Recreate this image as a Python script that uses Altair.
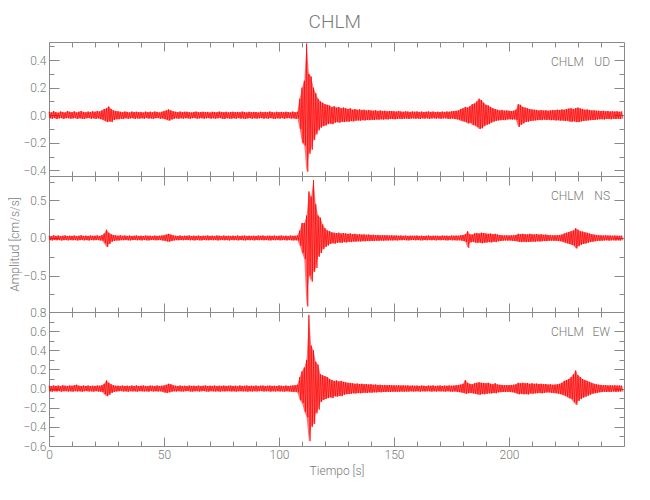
import altair as alt
import pandas as pd

STATION = "CHLM"
SECONDS = list(range(250))

UD_HI = [.025,.02,.03,.022,.018,.027,.024,.02,.03,.025,
         .022,.028,.02,.025,.03,.024,.021,.026,.023,.028,
         .025,.03,.027,.035,.045,.05,.063,.045,.035,.03,
         .028,.025,.022,.027,.024,.02,.026,.023,.025,.022,
         .024,.02,.026,.022,.025,.021,.027,.024,.02,.025,
         .03,.035,.042,.035,.028,.025,.022,.026,.023,.025,
         .025,.022,.02,.024,.026,.021,.023,.025,.022,.024,
         .02,.025,.023,.021,.026,.024,.022,.025,.02,.023,
         .025,.022,.024,.021,.026,.023,.02,.025,.022,.024,
         .023,.02,.025,.022,.024,.021,.026,.023,.02,.025,
         .022,.024,.021,.025,.023,.02,.026,.022,.025,.12,
         .2,.25,.52,.3,.28,.2,.16,.12,.1,.09,
         .08,.075,.07,.06,.065,.055,.06,.05,.055,.05,
         .045,.05,.04,.045,.04,.042,.038,.04,.035,.038,
         .035,.033,.036,.03,.034,.03,.032,.028,.03,.03,
         .028,.026,.03,.027,.025,.028,.026,.024,.027,.025,
         .027,.024,.026,.023,.025,.027,.024,.026,.023,.025,
         .023,.026,.024,.027,.025,.028,.03,.032,.035,.045,
         .05,.06,.055,.065,.08,.085,.1,.12,.11,.09,
         .075,.07,.06,.05,.045,.04,.035,.038,.033,.035,
         .032,.03,.033,.04,.08,.075,.06,.055,.05,.045,
         .042,.04,.038,.035,.037,.034,.036,.033,.035,.038,
         .036,.04,.038,.042,.04,.045,.048,.05,.045,.05,
         .055,.048,.045,.04,.042,.038,.035,.036,.033,.032,
         .03,.032,.028,.03,.027,.029,.026,.028,.025,.027]
UD_LO = [-.022,-.026,-.02,-.028,-.024,-.02,-.027,-.023,-.021,-.026,
         -.024,-.02,-.027,-.022,-.025,-.028,-.023,-.02,-.026,-.022,
         -.027,-.023,-.028,-.032,-.04,-.05,-.045,-.05,-.035,-.03,
         -.03,-.025,-.028,-.022,-.026,-.024,-.021,-.027,-.023,-.025,
         -.022,-.026,-.02,-.025,-.023,-.027,-.022,-.02,-.026,-.024,
         -.028,-.033,-.04,-.032,-.027,-.023,-.026,-.022,-.025,-.022,
         -.023,-.026,-.022,-.02,-.025,-.024,-.021,-.026,-.023,-.02,
         -.025,-.022,-.026,-.023,-.02,-.025,-.027,-.022,-.024,-.026,
         -.022,-.026,-.02,-.025,-.023,-.027,-.024,-.021,-.026,-.022,
         -.025,-.023,-.02,-.026,-.022,-.025,-.021,-.024,-.027,-.022,
         -.025,-.021,-.026,-.023,-.02,-.025,-.022,-.027,-.024,-.1,
         -.2,-.22,-.41,-.28,-.25,-.18,-.14,-.11,-.09,-.08,
         -.075,-.065,-.06,-.065,-.055,-.05,-.055,-.048,-.05,-.045,
         -.048,-.042,-.045,-.04,-.038,-.04,-.036,-.038,-.034,-.036,
         -.033,-.035,-.031,-.033,-.03,-.032,-.029,-.031,-.028,-.028,
         -.03,-.027,-.025,-.028,-.026,-.024,-.027,-.025,-.023,-.026,
         -.024,-.027,-.023,-.025,-.022,-.026,-.024,-.022,-.025,-.023,
         -.026,-.024,-.022,-.025,-.027,-.024,-.028,-.03,-.033,-.04,
         -.045,-.05,-.06,-.055,-.07,-.075,-.085,-.1,-.095,-.08,
         -.07,-.065,-.055,-.048,-.042,-.038,-.036,-.034,-.036,-.032,
         -.03,-.032,-.03,-.035,-.085,-.07,-.06,-.05,-.048,-.042,
         -.04,-.038,-.036,-.034,-.036,-.032,-.035,-.033,-.036,-.034,
         -.038,-.036,-.04,-.038,-.042,-.04,-.045,-.048,-.044,-.05,
         -.05,-.045,-.042,-.04,-.038,-.036,-.034,-.035,-.032,-.03,
         -.029,-.031,-.028,-.027,-.03,-.026,-.028,-.025,-.027,-.026]

NS_HI = [.03,.025,.035,.028,.032,.026,.03,.034,.027,.03,
         .028,.033,.026,.03,.035,.028,.031,.027,.033,.029,
         .03,.034,.028,.036,.06,.11,.07,.05,.04,.035,
         .03,.035,.03,.033,.028,.032,.027,.03,.034,.028,
         .031,.027,.033,.029,.03,.026,.032,.028,.03,.033,
         .035,.045,.055,.045,.035,.03,.028,.032,.027,.03,
         .03,.033,.027,.031,.028,.032,.026,.03,.029,.033,
         .028,.031,.027,.033,.03,.026,.032,.028,.03,.027,
         .031,.028,.033,.026,.03,.032,.027,.031,.028,.03,
         .027,.032,.029,.033,.026,.03,.031,.028,.032,.027,
         .03,.033,.028,.031,.026,.032,.029,.03,.034,.1,
         .2,.2,.3,.62,.55,.77,.45,.3,.27,.18,
         .13,.1,.09,.075,.07,.065,.07,.06,.065,.06,
         .055,.06,.05,.055,.048,.05,.045,.048,.042,.045,
         .04,.042,.038,.04,.036,.038,.035,.037,.033,.035,
         .032,.034,.03,.033,.029,.032,.028,.031,.03,.029,
         .032,.028,.031,.027,.03,.033,.028,.031,.029,.03,
         .027,.032,.029,.031,.028,.033,.03,.032,.03,.035,
         .04,.05,.09,.05,.045,.06,.065,.06,.07,.065,
         .06,.055,.06,.05,.055,.045,.04,.037,.034,.036,
         .033,.035,.038,.04,.055,.05,.055,.05,.048,.055,
         .05,.048,.052,.045,.05,.042,.045,.04,.038,.036,
         .035,.038,.04,.045,.06,.07,.08,.09,.1,.13,
         .11,.09,.085,.075,.07,.06,.05,.045,.04,.038,
         .035,.033,.036,.032,.034,.03,.033,.031,.029,.032]
NS_LO = [-.028,-.033,-.026,-.031,-.027,-.034,-.029,-.026,-.032,-.028,
         -.031,-.027,-.033,-.029,-.026,-.032,-.028,-.034,-.027,-.03,
         -.029,-.026,-.033,-.035,-.07,-.12,-.08,-.05,-.04,-.035,
         -.033,-.029,-.031,-.027,-.03,-.033,-.028,-.026,-.031,-.028,
         -.032,-.027,-.03,-.033,-.028,-.026,-.031,-.029,-.027,-.032,
         -.036,-.045,-.05,-.04,-.034,-.029,-.031,-.027,-.03,-.028,
         -.026,-.031,-.028,-.033,-.027,-.03,-.032,-.027,-.029,-.031,
         -.027,-.03,-.026,-.032,-.029,-.027,-.031,-.028,-.033,-.027,
         -.03,-.028,-.032,-.027,-.029,-.033,-.027,-.03,-.028,-.032,
         -.027,-.03,-.028,-.031,-.027,-.029,-.033,-.028,-.03,-.027,
         -.031,-.029,-.026,-.032,-.028,-.03,-.033,-.03,-.032,-.1,
         -.2,-.28,-.91,-.5,-.58,-.45,-.4,-.25,-.2,-.15,
         -.12,-.1,-.08,-.07,-.075,-.065,-.06,-.065,-.055,-.06,
         -.05,-.055,-.048,-.05,-.045,-.047,-.042,-.044,-.04,-.042,
         -.038,-.04,-.036,-.038,-.034,-.036,-.033,-.035,-.031,-.033,
         -.03,-.032,-.029,-.031,-.028,-.03,-.032,-.029,-.027,-.031,
         -.028,-.03,-.033,-.027,-.031,-.028,-.03,-.027,-.032,-.028,
         -.031,-.027,-.03,-.032,-.028,-.031,-.029,-.033,-.03,-.035,
         -.04,-.05,-.13,-.06,-.05,-.06,-.065,-.06,-.07,-.065,
         -.06,-.055,-.06,-.05,-.055,-.045,-.04,-.036,-.033,-.035,
         -.033,-.036,-.04,-.042,-.05,-.055,-.05,-.055,-.05,-.052,
         -.048,-.05,-.045,-.048,-.044,-.04,-.042,-.038,-.036,-.038,
         -.036,-.04,-.042,-.05,-.06,-.07,-.08,-.09,-.1,-.14,
         -.11,-.09,-.08,-.075,-.065,-.055,-.05,-.045,-.04,-.037,
         -.036,-.034,-.031,-.035,-.032,-.03,-.034,-.031,-.033,-.03]

EW_HI = [.03,.026,.033,.028,.031,.027,.034,.03,.028,.032,
         .029,.035,.04,.03,.027,.032,.028,.031,.026,.03,
         .028,.032,.03,.035,.05,.085,.06,.045,.035,.03,
         .03,.028,.032,.027,.03,.026,.031,.028,.033,.027,
         .03,.032,.028,.026,.031,.029,.027,.032,.028,.03,
         .033,.04,.05,.045,.035,.03,.027,.031,.028,.029,
         .026,.032,.028,.03,.027,.031,.026,.029,.032,.027,
         .03,.028,.032,.026,.03,.028,.031,.027,.029,.031,
         .027,.03,.026,.032,.028,.029,.033,.027,.03,.028,
         .031,.026,.03,.032,.027,.029,.031,.028,.03,.027,
         .032,.029,.026,.031,.028,.03,.033,.035,.04,.12,
         .18,.22,.3,.77,.45,.4,.28,.25,.15,.14,
         .13,.12,.1,.09,.08,.085,.075,.08,.07,.065,
         .06,.058,.055,.05,.052,.048,.05,.045,.047,.043,
         .045,.04,.042,.038,.04,.036,.038,.035,.037,.034,
         .035,.033,.036,.032,.034,.031,.033,.03,.032,.029,
         .031,.028,.032,.03,.027,.031,.029,.033,.028,.03,
         .032,.028,.031,.029,.033,.03,.032,.035,.038,.042,
         .05,.09,.06,.05,.045,.055,.06,.065,.06,.058,
         .055,.06,.05,.045,.055,.042,.04,.038,.036,.037,
         .036,.038,.04,.045,.06,.055,.06,.055,.058,.05,
         .055,.05,.052,.048,.05,.045,.048,.042,.045,.04,
         .042,.045,.05,.06,.08,.09,.1,.12,.15,.19,
         .14,.12,.1,.09,.08,.07,.06,.05,.045,.04,
         .038,.035,.037,.033,.035,.032,.034,.031,.033,.03]
EW_LO = [-.028,-.032,-.027,-.031,-.026,-.033,-.029,-.027,-.031,-.028,
         -.032,-.027,-.03,-.028,-.033,-.029,-.026,-.031,-.028,-.032,
         -.027,-.03,-.033,-.034,-.06,-.08,-.065,-.045,-.035,-.031,
         -.028,-.026,-.031,-.029,-.033,-.027,-.03,-.028,-.032,-.027,
         -.029,-.031,-.028,-.033,-.026,-.03,-.028,-.031,-.028,-.032,
         -.04,-.045,-.04,-.034,-.029,-.031,-.027,-.03,-.031,-.028,
         -.026,-.03,-.032,-.029,-.027,-.031,-.028,-.026,-.03,-.032,
         -.027,-.029,-.031,-.028,-.033,-.027,-.03,-.028,-.027,-.031,
         -.028,-.032,-.029,-.027,-.03,-.028,-.032,-.029,-.031,-.027,
         -.03,-.028,-.026,-.031,-.029,-.027,-.032,-.028,-.03,-.027,
         -.031,-.029,-.033,-.028,-.03,-.032,-.035,-.033,-.04,-.12,
         -.15,-.24,-.3,-.55,-.4,-.37,-.26,-.22,-.14,-.12,
         -.11,-.1,-.09,-.1,-.08,-.085,-.075,-.08,-.065,-.06,
         -.058,-.055,-.05,-.052,-.047,-.05,-.045,-.043,-.045,-.041,
         -.043,-.039,-.041,-.037,-.039,-.035,-.037,-.034,-.036,-.033,
         -.034,-.032,-.034,-.031,-.033,-.03,-.032,-.029,-.031,-.03,
         -.029,-.032,-.028,-.031,-.029,-.027,-.032,-.029,-.031,-.028,
         -.03,-.029,-.032,-.028,-.031,-.033,-.03,-.034,-.037,-.04,
         -.045,-.055,-.05,-.045,-.05,-.055,-.06,-.065,-.058,-.06,
         -.055,-.05,-.052,-.045,-.05,-.04,-.038,-.035,-.037,-.034,
         -.035,-.038,-.042,-.05,-.06,-.055,-.06,-.058,-.062,-.052,
         -.055,-.05,-.048,-.045,-.05,-.046,-.042,-.04,-.043,-.045,
         -.048,-.052,-.058,-.065,-.075,-.085,-.1,-.11,-.14,-.17,
         -.13,-.11,-.095,-.085,-.075,-.065,-.055,-.05,-.045,-.04,
         -.037,-.034,-.036,-.033,-.035,-.031,-.034,-.032,-.03,-.033]

CHANNELS = ["UD", "NS", "EW"]
Y_DOMAINS = {"UD": [-0.441, 0.531], "NS": [-0.985, 0.825], "EW": [-0.6, 0.8]}
Y_MAJOR = {"UD": [-0.4, -0.2, 0.0, 0.2, 0.4],
           "NS": [-0.5, 0.0, 0.5],
           "EW": [-0.6, -0.4, -0.2, 0.0, 0.2, 0.4, 0.6, 0.8]}
Y_MINOR = {"UD": [-0.3, -0.1, 0.1, 0.3, 0.5],
           "NS": [-0.75, -0.25, 0.25, 0.75],
           "EW": [-0.5, -0.3, -0.1, 0.1, 0.3, 0.5, 0.7]}
X_MAJOR = [0, 50, 100, 150, 200]
X_MINOR = [10, 20, 30, 40, 60, 70, 80, 90, 110, 120, 130, 140,
           160, 170, 180, 190, 210, 220, 230, 240]

for arr in (UD_HI, UD_LO, NS_HI, NS_LO, EW_HI, EW_LO):
    assert len(arr) == 250, len(arr)

W = 575
HEIGHTS = {"UD": 134, "NS": 136, "EW": 134}
FONT = "Roboto"
FW = 300
AXC = "#8a8a8a"
TXC = "#7a7a7a"


def trace_frame(hi, lo):
    rows = []
    for t, h, l in zip(SECONDS, hi, lo):
        rows.append({"t": t, "a": h})
        rows.append({"t": t + 0.5, "a": l})
    return pd.DataFrame(rows)


def tick_axis(orient, offset, values, size):
    return alt.Axis(orient=orient, offset=offset, values=values, tickSize=size,
                    labels=False, domain=False, grid=False, title=None,
                    tickColor=AXC, tickWidth=1)


def panel(ch, hi, lo, bottom=False, ytitle=None):
    H = HEIGHTS[ch]
    df = trace_frame(hi, lo)
    env = pd.DataFrame({"t": SECONDS, "hi": hi, "lo": lo})
    xs = alt.Scale(domain=[0, 250], nice=False, zero=False)
    ys = alt.Scale(domain=Y_DOMAINS[ch], nice=False, zero=False)

    def layer(xaxis, yaxis, opacity):
        return alt.Chart(df).mark_line(color="#ff0000", strokeWidth=0.7,
                                       opacity=opacity, clip=False).encode(
            x=alt.X("t:Q", scale=xs, axis=xaxis),
            y=alt.Y("a:Q", scale=ys, axis=yaxis),
        )

    if bottom:
        xlab = alt.Axis(orient="bottom", values=X_MAJOR, ticks=False, domain=False,
                        grid=False, labelPadding=3, format="d", labelFlush=False,
                        title="Tiempo [s]", titlePadding=5)
    else:
        xlab = None
    ylab_kw = dict(orient="left", values=Y_MAJOR[ch], ticks=False, domain=False,
                   grid=False, format=".1f", labelPadding=3, labelFlush=False)
    if ytitle:
        ylab = alt.Axis(title=ytitle, titlePadding=1, **ylab_kw)
    else:
        ylab = alt.Axis(title=None, **ylab_kw)

    band = alt.Chart(env).mark_area(color="#ff0000", opacity=0.55, clip=False).encode(
        x=alt.X("t:Q", scale=xs, axis=None),
        y=alt.Y("hi:Q", scale=ys, axis=None),
        y2="lo:Q",
    )
    main = layer(xlab, ylab, 1)
    l2 = layer(tick_axis("top", -H, X_MAJOR, 9), tick_axis("right", -W, Y_MAJOR[ch], 10), 0)
    l3 = layer(tick_axis("top", -H, X_MINOR, 5), tick_axis("right", -W, Y_MINOR[ch], 5), 0)
    l4 = layer(tick_axis("bottom", -H, X_MAJOR, 9), tick_axis("left", -W, Y_MAJOR[ch], 10), 0)
    l5 = layer(tick_axis("bottom", -H, X_MINOR, 5), tick_axis("left", -W, Y_MINOR[ch], 5), 0)

    lab = pd.DataFrame({"s": [STATION]})
    t1 = alt.Chart(lab).mark_text(align="right", baseline="middle", font=FONT,
                                  fontWeight=FW, fontSize=12, color=TXC).encode(
        text="s:N", x=alt.value(W - 40), y=alt.value(20))
    lab2 = pd.DataFrame({"s": [ch]})
    t2 = alt.Chart(lab2).mark_text(align="right", baseline="middle", font=FONT,
                                   fontWeight=FW, fontSize=12, color=TXC).encode(
        text="s:N", x=alt.value(W - 14), y=alt.value(20))

    return alt.layer(band, main, l2, l3, l4, l5, t1, t2).resolve_axis(
        x="independent", y="independent").properties(width=W, height=H)


p_ud = panel("UD", UD_HI, UD_LO)
p_ns = panel("NS", NS_HI, NS_LO, ytitle="Amplitud [cm/s/s]")
p_ew = panel("EW", EW_HI, EW_LO, bottom=True)

chart = alt.vconcat(p_ud, p_ns, p_ew, spacing=0, bounds="flush").properties(
    title=alt.TitleParams(STATION, font=FONT, fontSize=19, fontWeight=FW,
                          color=TXC, anchor="middle", offset=9, dx=18),
    padding={"left": 0, "top": 5, "right": 5, "bottom": 5},
).configure_view(stroke=AXC, strokeWidth=1).configure_axis(
    labelFont=FONT, labelFontSize=12, labelColor=TXC, labelFontWeight=FW,
    titleFont=FONT, titleFontSize=12, titleColor=TXC, titleFontWeight=FW
)

chart.save("out.html", embed_options={"renderer": "svg", "actions": False})
